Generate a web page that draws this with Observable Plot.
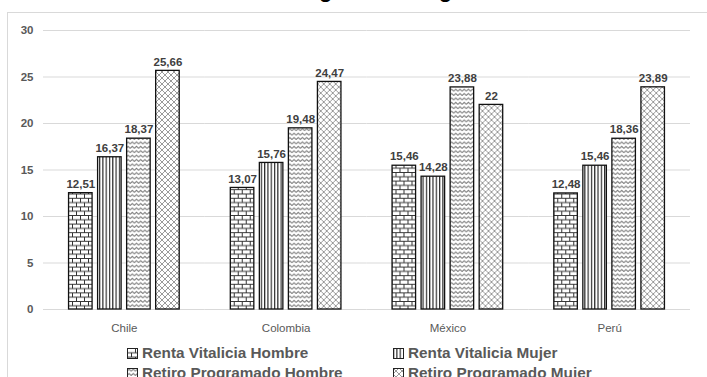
<!DOCTYPE html>
<html>
<head>
<meta charset="utf-8">
<script src="https://cdn.jsdelivr.net/npm/d3@7"></script>
<script src="https://cdn.jsdelivr.net/npm/@observablehq/plot@0.6"></script>
<style>
  body { margin: 0; background: #fff; width: 707px; height: 377px; overflow: hidden; position: relative;
         font-family: "Liberation Sans", sans-serif; }
  #frame { position: absolute; left: 7px; top: 12px; width: 800px; height: 420px; border: 1px solid #d9d9d9; }
  #title { position: absolute; left: 7px; width: 800px; top: -23px; text-align: center;
           font: bold 22px "Liberation Sans", sans-serif; color: #000; white-space: nowrap; }
  #chart { position: absolute; left: 0; top: 0; }
  .item { position: absolute; display: flex; align-items: center; white-space: nowrap;
          font: bold 15.3px "Liberation Sans", sans-serif; color: #595959; }
  .item svg { margin-right: 4px; }
  #defs { position: absolute; width: 0; height: 0; }
</style>
</head>
<body>
<svg id="defs" width="0" height="0">
  <defs>
    <pattern id="brick" width="8" height="8.6" patternUnits="userSpaceOnUse">
      <rect width="8" height="8.6" fill="#fff"/>
      <path d="M0 0.5H8M0 4.8H8M0.5 0V4.8M4.5 4.8V8.6" stroke="#333" stroke-width="1" fill="none"/>
    </pattern>
    <pattern id="stripes" width="3.3" height="4" patternUnits="userSpaceOnUse">
      <rect width="3.3" height="4" fill="#fff"/>
      <rect x="0" width="1.2" height="4" fill="#2a2a2a"/>
    </pattern>
    <pattern id="wave" width="4.2" height="4.4" patternUnits="userSpaceOnUse">
      <rect width="4.2" height="4.4" fill="#fff"/>
      <path d="M0 3.2L2.1 1.2L4.2 3.2" stroke="#7a7a7a" stroke-width="1" fill="none"/>
    </pattern>
    <pattern id="diamond" width="6" height="6" patternUnits="userSpaceOnUse">
      <rect width="6" height="6" fill="#fff"/>
      <path d="M0 0L6 6M6 0L0 6" stroke="#9a9a9a" stroke-width="1" fill="none"/>
    </pattern>
  </defs>
</svg>
<div id="frame"></div>
<div id="title">Seguro de longevidad</div>
<div id="chart"></div>
<div id="legend"></div>
<script>
// Countries along the x axis
const countries = ["Chile", "Colombia", "México", "Perú"];
// Series, in the order they sit inside each country group
const series = ["Renta Vitalicia Hombre", "Renta Vitalicia Mujer", "Retiro Programado Hombre", "Retiro Programado Mujer"];
// Values per series, one per country
const rentaVitaliciaHombre = [12.51, 13.07, 15.46, 12.48];
const rentaVitaliciaMujer = [16.37, 15.76, 14.28, 15.46];
const retiroProgramadoHombre = [18.37, 19.48, 23.88, 18.36];
const retiroProgramadoMujer = [25.66, 24.47, 22, 23.89];
// Y axis ticks
const yTicks = [0, 5, 10, 15, 20, 25, 30];

const patterns = ["url(#brick)", "url(#stripes)", "url(#wave)", "url(#diamond)"];
const valuesBySeries = [rentaVitaliciaHombre, rentaVitaliciaMujer, retiroProgramadoHombre, retiroProgramadoMujer];

const rows = [];
countries.forEach((country, i) => {
  series.forEach((s, j) => {
    const value = valuesBySeries[j][i];
    rows.push({country, serie: s, value, label: String(value).replace(".", ",")});
  });
});

const font = '"Liberation Sans", sans-serif';

const chart = Plot.plot({
  width: 707,
  height: 340,
  marginLeft: 43,
  marginRight: 17,
  marginTop: 30,
  marginBottom: 31,
  style: {background: "transparent", fontFamily: font},
  fx: {domain: countries, padding: 0, round: false, label: null},
  x: {domain: series, paddingInner: 0.19, paddingOuter: 0.88, round: false, axis: null},
  y: {domain: [0, 30], label: null},
  color: {domain: series, range: patterns},
  marks: [
    Plot.gridY(yTicks, {stroke: "#d9d9d9", strokeOpacity: 1, strokeWidth: 1}),
    Plot.axisY(yTicks, {tickSize: 0, tickPadding: 10, fontSize: 11.5, fontWeight: "bold", fill: "#595959", label: null}),
    Plot.axisFx({anchor: "bottom", tickSize: 0, tickPadding: 14, fontSize: 11.5, fill: "#595959", label: null}),
    Plot.barY(rows, {fx: "country", x: "serie", y: "value", fill: "serie", stroke: "#111", strokeWidth: 1.3}),
    Plot.text(rows, {fx: "country", x: "serie", y: "value", text: "label", dy: -9, fontSize: 11.5, fontWeight: "bold", fill: "#404040"})
  ]
});
document.getElementById("chart").append(chart);

// Legend: two columns, two rows, with patterned swatches
const legendPos = [[127, 353], [393, 353], [127, 373], [393, 373]];
const legend = document.getElementById("legend");
series.forEach((s, j) => {
  const item = document.createElement("div");
  item.className = "item";
  item.style.left = legendPos[j][0] + "px";
  item.style.top = (legendPos[j][1] - 11) + "px";
  item.style.height = "22px";
  item.innerHTML = `<svg width="11" height="11"><rect x="0.5" y="0.5" width="10" height="10" fill="${patterns[j]}" stroke="#222" stroke-width="1"/></svg><span>${s}</span>`;
  legend.append(item);
});
</script>
</body>
</html>
